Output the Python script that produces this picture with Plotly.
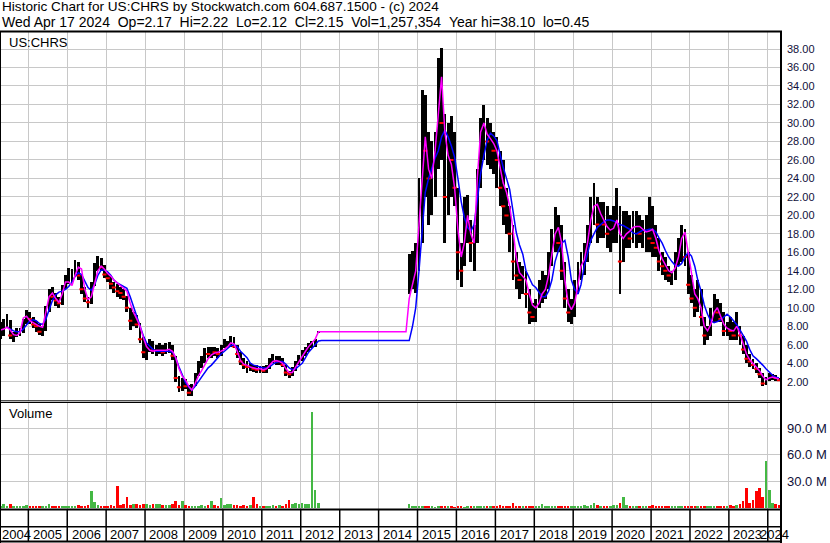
import pandas as pd
import plotly.graph_objects as go

W, H = 830, 543

# ---------------- data (monthly, Apr 2004 .. Apr 2024) ----------------
months = pd.date_range("2004-04-01", "2024-04-01", freq="MS") + pd.Timedelta(days=14)
GAP = [None] * 27  # Jul 2012 .. Sep 2014, no trading

high = ([8.5, 8.8, 9.3, 8.7, 7.4, 7.8, 7.8, 8.8, 9.8]
        + [9.6, 9.0, 8.6, 8.3, 8.0, 10.2, 12.0, 12.3, 11.6, 11.2, 12.5, 13.5]
        + [14.3, 14.2, 15.2, 15.0, 13.6, 12.2, 11.2, 12.8, 14.8, 15.6, 15.4, 14.6]
        + [13.8, 13.4, 12.8, 12.6, 12.2, 12.0, 11.3, 10.0, 9.6, 9.2, 8.4, 6.8]
        + [6.2, 6.6, 6.4, 6.0, 6.2, 6.0, 6.2, 6.3, 6.0, 4.8, 2.6, 2.4]
        + [2.3, 1.6, 1.8, 3.0, 4.2, 4.8, 5.6, 5.8, 5.8, 5.8, 5.6, 6.0]
        + [6.6, 6.4, 6.9, 6.8, 6.0, 5.2, 4.6, 4.2, 4.0, 3.8, 3.8, 3.7]
        + [3.7, 3.8, 4.6, 5.0, 4.8, 4.8, 4.6, 3.8, 3.2, 3.6, 4.2, 4.9]
        + [5.4, 5.8, 6.2, 6.4, 6.6, 7.45]
        + GAP
        + [15.8, 16.2, 17.0]
        + [24, 33.6, 33, 29, 28, 29, 37, 38.1, 31, 30, 30.8, 29]
        + [23, 17, 22, 22.2, 19.5, 19, 25, 30.5, 31.9, 30.5, 30, 29]
        + [28.5, 27, 26, 23, 21, 19, 16, 15, 14.5, 14, 12, 10.5]
        + [11, 13, 14, 13.5, 16, 18.5, 20.9, 20, 19, 15, 12, 11]
        + [13, 15, 16, 17, 19, 22, 23.5, 22, 21.5, 21.5, 21, 20]
        + [21, 23, 21, 20.5, 20.5, 20, 20.5, 20.5, 20, 19.5, 20, 22]
        + [21, 19, 17.5, 16, 15.5, 14.5, 14, 16, 17.5, 19, 18.5, 16]
        + [13.5, 12, 13, 12, 9, 8, 10, 11.5, 11, 10.5, 9.5, 8.5]
        + [9, 8.5, 9.5, 8, 7, 6, 5, 4.5, 4, 3.5, 2.9, 2.5]
        + [2.9, 2.8, 2.7, 2.4])

low = ([6.6, 7.0, 7.8, 6.6, 6.3, 6.8, 6.9, 7.3, 8.2]
       + [8.3, 7.8, 7.4, 7.1, 7.0, 7.5, 9.6, 10.8, 10.2, 10.0, 10.3, 12.0]
       + [12.6, 12.8, 13.3, 13.0, 11.5, 10.6, 10.0, 10.4, 12.4, 14.0, 14.0, 13.2]
       + [12.8, 12.0, 11.6, 11.2, 11.0, 10.8, 9.6, 7.6, 8.0, 7.8, 6.2, 4.6]
       + [4.4, 5.2, 5.0, 4.8, 5.0, 4.8, 5.0, 5.1, 4.4, 2.0, 0.9, 1.0]
       + [1.2, 0.5, 0.45, 1.5, 2.6, 3.5, 4.0, 4.6, 4.6, 4.8, 4.6, 4.8]
       + [5.6, 5.6, 5.8, 5.6, 4.6, 3.8, 3.4, 3.0, 3.2, 3.1, 3.0, 3.0]
       + [3.0, 3.0, 3.4, 4.0, 3.8, 3.8, 3.6, 2.6, 2.4, 2.6, 3.2, 3.8]
       + [4.2, 4.8, 5.2, 5.6, 5.8, 7.3]
       + GAP
       + [11.5, 12.0, 11.6]
       + [14, 17, 22, 19, 20, 22, 25, 26, 17, 20, 22, 21]
       + [13, 12.3, 14.5, 17, 15, 14, 17, 23, 26, 25.5, 25, 24.5]
       + [23, 21, 19, 18, 16, 13, 12, 11, 11.5, 10, 8.2, 8.5]
       + [8.5, 10, 10.5, 11, 12, 14.5, 16, 16, 13, 10, 8.5, 8.2]
       + [9, 11.5, 13, 13.5, 15, 17, 19, 17, 17.5, 17.5, 16.5, 16]
       + [17, 17, 11.5, 15, 16.5, 16.5, 17, 16.5, 17, 16.5, 16, 16]
       + [15.5, 15.5, 14, 13.5, 13, 12.8, 12.5, 13, 14.5, 15, 14.5, 11.5]
       + [10.5, 9, 9.5, 8, 6, 6.5, 7, 8.5, 8.5, 8.5, 7, 7]
       + [6.5, 6.5, 6.5, 6, 5, 4, 3.6, 3.4, 3, 2.4, 1.5, 1.6]
       + [2.1, 2.2, 2.1, 2.05])

close = ([7.5, 8.5, 8.6, 7.0, 7.0, 7.4, 7.6, 8.5, 9.4]
         + [8.8, 8.2, 8.0, 7.4, 7.6, 9.8, 11.5, 11.2, 10.8, 10.5, 12.2, 13.0]
         + [13.6, 13.8, 14.6, 13.5, 12.0, 11.0, 10.6, 12.5, 14.5, 15.0, 14.4, 13.6]
         + [13.2, 12.6, 12.2, 11.8, 11.6, 11.2, 10.0, 8.6, 8.6, 8.2, 6.6, 5.2]
         + [5.6, 6.0, 5.4, 5.4, 5.8, 5.2, 5.6, 5.8, 4.8, 2.4, 1.4, 2.0]
         + [1.5, 0.8, 1.6, 2.8, 3.8, 4.2, 5.2, 5.0, 5.4, 5.2, 5.0, 5.8]
         + [6.0, 6.2, 6.4, 5.8, 5.0, 4.2, 3.8, 3.6, 3.6, 3.4, 3.3, 3.4]
         + [3.2, 3.5, 4.4, 4.6, 4.2, 4.4, 3.8, 3.0, 2.8, 3.4, 4.0, 4.6]
         + [5.0, 5.6, 5.8, 6.2, 6.4, 7.4]
         + GAP
         + [13.5, 14.0, 16.0]
         + [22, 28, 27, 24, 25, 27, 34, 30, 22, 27, 26, 23]
         + [16, 14, 19, 19, 17, 17.5, 24, 28, 29, 28, 28, 27]
         + [26, 23, 21, 20, 18, 15, 13.5, 13, 13, 11.5, 9.5, 9]
         + [10.5, 12, 12, 12.5, 15, 17.5, 19, 17, 14, 11, 9.5, 9.5]
         + [12, 14, 14.5, 16, 18, 21, 21, 19, 19.5, 19, 18, 18]
         + [19, 20, 15, 18, 18, 17.5, 18.5, 19, 18, 18, 18, 17.5]
         + [17, 16.5, 15, 14.5, 14, 13.5, 13.5, 15.5, 16.5, 17.5, 15.5, 12.5]
         + [11, 10, 12, 9, 7, 7.5, 9, 10, 9.5, 8.8, 7.5, 7.8]
         + [7.5, 7, 7.5, 7, 5.5, 4.5, 4.2, 3.8, 3.4, 2.8, 1.8, 2.3]
         + [2.5, 2.5, 2.4, 2.15])

ma_short = ([7.6, 7.7, 7.9, 7.6, 7.1, 7.0, 7.3, 8.9, 9.1]
            + [8.6, 8.4, 8.2, 8.0, 7.9, 9.5, 11.2, 11.6, 11.0, 10.6, 11.5, 12.8]
            + [12.8, 12.4, 13.5, 14.4, 14.2, 12.0, 10.9, 11.2, 12.8, 14.0, 14.5, 14.2]
            + [13.7, 13.4, 13.0, 12.7, 12.4, 12.1, 11.8, 10.5, 9.5, 8.8, 8.0, 6.8]
            + [5.8, 5.4, 5.3, 5.4, 5.4, 5.4, 5.4, 5.5, 5.3, 4.6, 3.4, 2.6]
            + [2.2, 1.5, 1.1, 1.8, 2.6, 3.2, 3.9, 4.5, 4.9, 5.1, 5.2, 5.3]
            + [5.5, 5.8, 6.2, 6.1, 5.3, 4.3, 3.9, 3.8, 3.6, 3.5, 3.4, 3.4]
            + [3.3, 3.4, 3.8, 4.2, 4.3, 4.2, 4.0, 3.4, 3.0, 3.0, 3.6, 4.2]
            + [4.7, 5.3, 5.8, 6.2, 6.6, 7.4]
            + [7.4] * 27
            + [11.0, 12.5, 14.0]
            + [19, 24, 28.5, 25, 24, 27, 31, 35, 29, 26.5, 25.5, 23]
            + [18.5, 15.5, 17, 20, 18, 17, 24, 29, 30, 28.8, 28.3, 27.8]
            + [27, 25, 23.5, 22.5, 21, 18.5, 15.5, 13.8, 13.4, 13, 11.5, 10.3]
            + [10, 10.5, 11.5, 12, 13.5, 16, 18, 18.7, 17, 13, 10.5, 9.8]
            + [10.5, 12.5, 14.5, 15.2, 17, 19.5, 21, 21.2, 20.2, 19.5, 18.8, 18.4]
            + [18.6, 19.5, 18, 17.5, 18, 18.3, 18.7, 18.8, 18.8, 18.5, 18.2, 18.3]
            + [18.5, 17.5, 16.2, 15.3, 14.6, 14.0, 13.8, 14.3, 15.5, 17.5, 18.2, 16]
            + [13.5, 11.5, 11, 10, 8, 7.5, 8.2, 9.5, 10, 9.2, 8.2, 7.8]
            + [7.6, 7.5, 8, 7.2, 6, 5, 4.4, 4, 3.7, 3.2, 2.6, 2.2]
            + [2.4, 2.5, 2.4, 2.3])

ma_long = ([None, None, 7.9, 7.7, 7.5, 7.4, 7.4, 7.7, 8.2]
           + [8.6, 8.7, 8.6, 8.3, 8.2, 8.8, 9.8, 10.8, 11.4, 11.7, 11.8, 12.0]
           + [12.3, 12.8, 13.4, 13.8, 13.6, 12.8, 12.2, 11.9, 12.5, 13.5, 14.1, 14.1]
           + [13.9, 13.5, 13.0, 12.7, 12.5, 12.3, 12.1, 11.2, 10.1, 9.0, 8.0, 7.0]
           + [6.2, 5.8, 5.5, 5.3, 5.3, 5.3, 5.3, 5.3, 5.2, 4.6, 3.6, 2.8]
           + [1.9, 1.4, 1.1, 1.5, 2.0, 2.5, 3.0, 3.5, 3.8, 4.2, 4.6, 5.0]
           + [5.3, 5.6, 5.9, 6.0, 5.8, 5.3, 4.9, 4.6, 4.0, 3.8, 3.7, 3.6]
           + [3.5, 3.5, 3.6, 3.9, 4.1, 4.2, 4.2, 3.9, 3.5, 3.3, 3.4, 3.7]
           + [4.0, 4.6, 5.2, 5.6, 6.0, 6.4]
           + [6.45] * 27
           + [6.45, 8.0, 10.0]
           + [14, 19, 22.5, 24, 25.2, 26.2, 27, 28.5, 29.2, 28.5, 27.5, 26.3]
           + [24, 21.5, 19.8, 18.7, 18.3, 19, 21.6, 24.5, 26.5, 28.1, 28.9, 28.6]
           + [28.1, 26.5, 25.2, 24, 22.8, 20.5, 18.2, 16.8, 15.8, 14, 13.2, 12.5]
           + [12.2, 11.6, 11.2, 11.2, 11.8, 13, 15, 16.2, 17, 17.3, 15.5, 13]
           + [12, 11.5, 12.5, 14.5, 16, 17.3, 18, 18.7, 19, 19.3, 19.5, 19.5]
           + [19.4, 19.2, 19, 18.9, 18.7, 18.5, 18.1, 18, 18.2, 18.4, 18.4, 18.5]
           + [18.5, 18.2, 17.6, 17, 16.2, 15.5, 15, 14.6, 14.5, 14.8, 15.5, 16]
           + [15.6, 14.5, 13, 11.8, 10.3, 9.3, 8.6, 8.4, 8.5, 8.7, 9.0, 9.3]
           + [9.0, 8.6, 8.2, 7.6, 7.0, 6.4, 5.5, 4.8, 4.5, 4.2, 3.8, 3.4]
           + [3.0, 2.7, 2.5, 2.4])

volume_m = ([2, 4, 2, 4, 1.5, 1.5, 2, 1.5, 3]
            + [1.5, 2, 1.5, 2, 1.5, 2, 4, 2.5, 2, 2, 1.5, 2.5]
            + [2, 2.5, 2, 3, 2, 2.5, 3, 19, 7, 3, 2, 2.5]
            + [2, 3, 2.5, 24.5, 3, 4, 12, 3.5, 4, 5, 3, 4]
            + [5, 3, 4, 5, 5, 3, 3.5, 3, 4, 7.5, 3, 7.5]
            + [3, 2, 2.5, 2, 2.5, 3, 2.5, 3, 8, 3, 2.5, 11]
            + [3, 4, 5, 3.5, 3, 2.5, 3, 2.5, 3, 12, 4, 2.5]
            + [2, 2.5, 2, 3, 2, 3, 2.5, 4, 9, 4, 6, 5]
            + [6, 4, 5, 109, 20, 6]
            + GAP
            + [4, 1.5, 1.5]
            + [1.5, 1.5, 2, 1.5, 1.5, 1, 1.5, 1.5, 2, 1.5, 1.5, 1]
            + [1.5, 1.5, 1, 1.5, 2, 1.5, 1.5, 2, 1.5, 1.5, 1.5, 1.5]
            + [2, 3, 2, 2, 2.5, 6, 2.5, 2, 2, 1.5, 2, 2]
            + [2, 2.5, 4, 2.5, 2, 2.5, 2.5, 2, 2.5, 2, 2, 2.5]
            + [2, 2, 2.5, 3, 2.5, 3, 6, 3, 2, 2.5, 2, 2.5]
            + [3, 3, 6, 12, 3, 2.5, 2, 2.5, 2, 2, 2, 2.5]
            + [3, 2.5, 2, 2, 2, 2.5, 2, 2, 2, 2.5, 2, 2.5]
            + [2, 2, 2, 2.5, 2, 2, 2, 2, 2, 2.5, 2, 2.5]
            + [3, 2.5, 3, 5, 7.5, 22.6, 6, 9, 19, 22.6, 12, 53]
            + [20, 6, 4, 3])

years = list(range(2004, 2025))
price_ticks = [2 * k for k in range(1, 20)]
vol_ticks = [30, 60, 90]

# ---------------- derived helpers ----------------
rng = [pd.Timestamp("2004-04-10"), pd.Timestamp("2024-05-13 12:00")]
spans = [None if h is None else h - l for h, l in zip(high, low)]
prev = [None] + close[:-1]
down = [c is not None and p is not None and c < p for c, p in zip(close, prev)]
red_x = [m for m, d in zip(months, down) if d]
red_y = [c for c, d in zip(close, down) if d]
vol_col = ["#ff0000" if d else "#44b844" for d in down]

DAY = 86400000
def py(y):
    return 1 - y / H
def px(x):
    return x / W

fig = go.Figure()
fig.add_trace(go.Bar(x=months, y=spans, base=low, width=27 * DAY,
                     marker=dict(color="black", line=dict(width=0)),
                     xaxis="x", yaxis="y", hoverinfo="skip"))
fig.add_trace(go.Scatter(x=red_x, y=red_y, mode="markers",
                         marker=dict(symbol="line-ew", size=3,
                                     line=dict(color="#ff0000", width=2)),
                         xaxis="x", yaxis="y", hoverinfo="skip"))
fig.add_trace(go.Scatter(x=months, y=ma_long, mode="lines",
                         line=dict(color="#0000ff", width=1.5),
                         xaxis="x", yaxis="y", hoverinfo="skip"))
fig.add_trace(go.Scatter(x=months, y=ma_short, mode="lines",
                         line=dict(color="#ff00ff", width=1.5),
                         xaxis="x", yaxis="y", hoverinfo="skip"))
fig.add_trace(go.Bar(x=months, y=volume_m, width=24 * DAY,
                     marker=dict(color=vol_col, line=dict(width=0)),
                     xaxis="x2", yaxis="y2", hoverinfo="skip"))

FONT = "Liberation Sans, Arial, sans-serif"
grid = "#c8c8c8"
year_starts = [pd.Timestamp(f"{y}-01-01") for y in years[1:]]

xcommon = dict(type="date", range=rng, domain=[0, 782 / W], tickvals=year_starts,
               showticklabels=False, showgrid=True, gridcolor=grid, gridwidth=1,
               zeroline=False, showline=False, ticks="")
fig.update_layout(
    width=W, height=H, margin=dict(l=0, r=0, t=0, b=0),
    paper_bgcolor="white", plot_bgcolor="white", showlegend=False,
    bargap=0,
    xaxis=dict(anchor="y", **xcommon),
    xaxis2=dict(anchor="y2", matches="x", **xcommon),
    yaxis=dict(domain=[py(400.5), py(31)], range=[-0.03, 39.95], side="right",
               anchor="x", tickvals=price_ticks,
               ticktext=[f"{v:.2f}" for v in price_ticks],
               tickfont=dict(family=FONT, size=11, color="#10103a"),
               showgrid=True, gridcolor=grid, gridwidth=1, zeroline=False,
               showline=False, ticks="", ticklabelstandoff=4),
    yaxis2=dict(domain=[py(509), py(402.5)], range=[-1.7, 119.2], side="right",
                anchor="x2", tickvals=vol_ticks,
                ticktext=[f"{v:.1f} M" for v in vol_ticks],
                tickfont=dict(family=FONT, size=13, color="#10103a"),
                showgrid=True, gridcolor=grid, gridwidth=1, zeroline=False,
                showline=False, ticks="", ticklabelstandoff=4),
)

shapes = []
def hline(y, x0, x1, w=1):
    shapes.append(dict(type="line", xref="paper", yref="paper", x0=px(x0), x1=px(x1),
                       y0=py(y), y1=py(y), line=dict(color="black", width=w)))
def vline(x, y0, y1, w=1):
    shapes.append(dict(type="line", xref="paper", yref="paper", x0=px(x), x1=px(x),
                       y0=py(y0), y1=py(y1), line=dict(color="black", width=w)))

hline(31.5, 0, 782, 2)
hline(400.8, 0, 782, 1)
hline(402.5, 0, 782, 1)
hline(509.5, 0, 782, 2)
hline(526.8, 0, 782, 1.5)
hline(541.5, 0, 782, 2)
vline(781, 31, 543, 2)
vline(0.5, 31, 543, 1)
for ys in year_starts:
    shapes.append(dict(type="line", xref="x", yref="paper", x0=ys, x1=ys,
                       y0=py(509), y1=py(542), line=dict(color="black", width=1.5)))
fig.update_layout(shapes=shapes)

ann = []
NB = "\u00a0"
ann.append(dict(text="Historic Chart for US:CHRS by Stockwatch.com 604.687.1500 - (c) 2024",
                x=px(0.5), y=py(7), xref="paper", yref="paper", xanchor="left",
                yanchor="middle", showarrow=False, borderpad=0,
                font=dict(family=FONT, size=13.6, color="black")))
line2 = (f"Wed Apr 17 2024{NB}{NB}Op=2.17{NB}{NB}Hi=2.22{NB}{NB}Lo=2.12{NB}{NB}"
         f"Cl=2.15{NB}{NB}Vol=1,257,354{NB}{NB}Year hi=38.10{NB}{NB}lo=0.45")
ann.append(dict(text=line2, x=px(0.5), y=py(22.5), xref="paper", yref="paper",
                xanchor="left", yanchor="middle", showarrow=False, borderpad=0,
                font=dict(family=FONT, size=14, color="black")))
ann.append(dict(text="US:CHRS", x=px(7), y=py(42.5), xref="paper", yref="paper",
                xanchor="left", yanchor="middle", showarrow=False,
                font=dict(family=FONT, size=13, color="black")))
ann.append(dict(text="Volume", x=px(7), y=py(413.5), xref="paper", yref="paper",
                xanchor="left", yanchor="middle", showarrow=False,
                font=dict(family=FONT, size=13, color="black")))
for y in years:
    if y == 2004:
        xpos = pd.Timestamp("2004-04-12")
    elif y == 2024:
        xpos = pd.Timestamp("2023-09-28")
    else:
        xpos = pd.Timestamp(f"{y}-01-01") + pd.Timedelta(days=22)
    ann.append(dict(text=str(y), x=xpos, y=py(534.5), xref="x", yref="paper",
                    xanchor="left", yanchor="middle", showarrow=False,
                    font=dict(family=FONT, size=13, color="black")))
fig.update_layout(annotations=ann)

fig.write_html("out.html", config={"displayModeBar": False},
               post_script="document.body.style.margin='0';document.body.style.padding='0';")
